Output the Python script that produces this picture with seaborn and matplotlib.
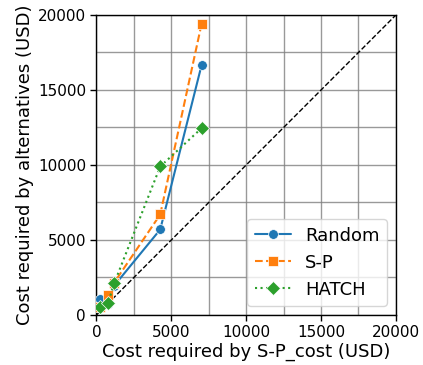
import matplotlib
matplotlib.use("Agg")
import matplotlib.pyplot as plt
import seaborn as sns
import pandas as pd
from matplotlib.ticker import MultipleLocator

sp_cost = [270, 780, 1180, 4260, 7020]
random_cost = [1050, 750, 1950, 5700, 16650]
sp_alt = [500, 1350, 2150, 6700, 19400]
hatch_cost = [500, 800, 2100, 9900, 12450]
series_names = ["Random", "S-P", "HATCH"]

sns.set_style("white")
plt.rcParams['font.family'] = ['DejaVu Sans']
plt.rcParams.update({"text.color": "black", "axes.labelcolor": "black",
                     "xtick.color": "black", "ytick.color": "black"})

fig = plt.figure(figsize=(4.23, 3.65), dpi=100)
ax = fig.add_axes([0.228, 0.137, 0.708, 0.822])

colors = ["#1f77b4", "#ff7f0e", "#2ca02c"]
markers = ["o", "s", "D"]
styles = ["-", "--", ":"]
for name, vals, c, m, ls in zip(series_names, [random_cost, sp_alt, hatch_cost], colors, markers, styles):
    df = pd.DataFrame({"x": sp_cost, "y": vals})
    sns.lineplot(data=df, x="x", y="y", ax=ax, color=c, marker=m, linestyle=ls,
                 linewidth=1.5, markersize=7, markeredgewidth=0.5,
                 markeredgecolor="white", label=name, zorder=3)

ax.plot([0, 20000], [0, 20000], color="black", linestyle="--", linewidth=1, zorder=2)

ax.set_xlim(0, 20000)
ax.set_ylim(0, 20000)
ax.xaxis.set_major_locator(MultipleLocator(5000))
ax.yaxis.set_major_locator(MultipleLocator(5000))
ax.xaxis.set_minor_locator(MultipleLocator(2500))
ax.yaxis.set_minor_locator(MultipleLocator(2500))
ax.grid(which="both", color="gray", linewidth=1, alpha=0.8)
ax.tick_params(which="major", length=4, width=1, labelsize=11, bottom=True, left=True,
               colors="black")
ax.tick_params(which="minor", length=0)
for s in ax.spines.values():
    s.set_color("black")
    s.set_linewidth(1)

ax.set_xlabel("Cost required by S-P_cost (USD)", fontsize=13, labelpad=2)
ax.set_ylabel("Cost required by alternatives (USD)", fontsize=13, labelpad=3)
leg = ax.legend(loc="lower right", fontsize=13)
for t in leg.get_texts():
    t.set_color("black")

fig.savefig("out.png", dpi=100)
